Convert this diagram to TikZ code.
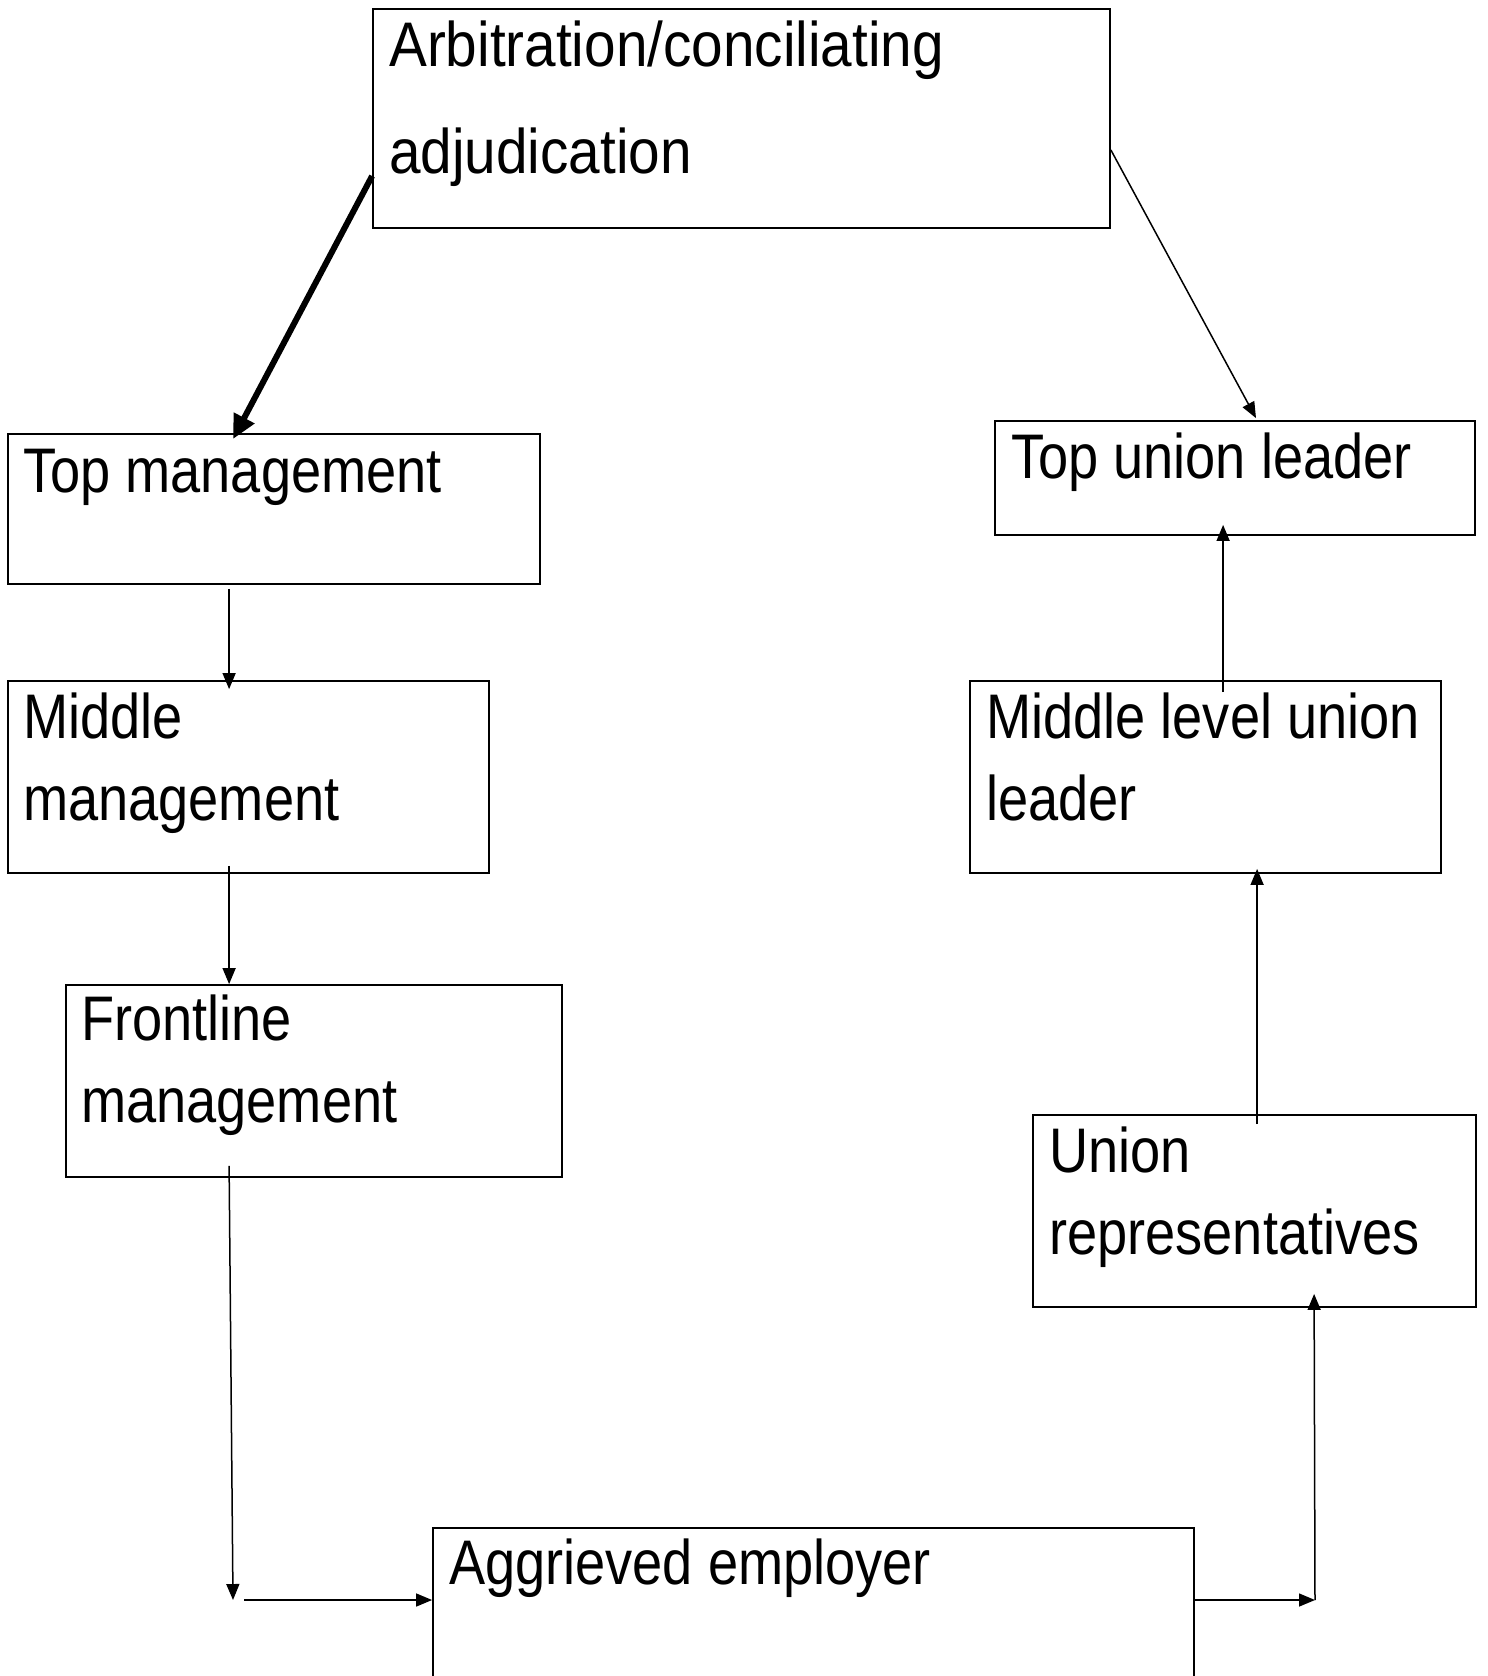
\documentclass[tikz,border=0pt]{standalone}
\usepackage{fontspec}
\setmainfont{Liberation Sans}[FakeStretch=0.86]
\newfontfamily\widesans{Liberation Sans}[FakeStretch=0.90]
\usetikzlibrary{arrows.meta,calc}

\tikzset{
  box/.style={draw, line width=1.8pt, rectangle, inner sep=0pt},
  label/.style={anchor=base west, inner sep=0pt, align=left,
    font=\fontsize{63}{82}\selectfont},
  arr/.style={line width=1.5pt, -{Triangle[length=16pt,width=13pt]}},
  thickarr/.style={line width=6pt, -{Triangle[length=24pt,width=22pt]}}
}

% a rectangle given by its corners (x1,y1) and (x2,y2)
\newcommand{\boxat}[5]{%
  \node[box, minimum width=#4-#2, minimum height=#5-#3]
    (#1) at ({(#2+#4)/2},{(#3+#5)/2}) {};}

\begin{document}
\begin{tikzpicture}[x=1pt,y=-1pt]
\useasboundingbox (0,0) rectangle (1488,1676);
\fill[white] (0,0) rectangle (1488,1676);
\clip (0,0) rectangle (1488,1676);

% boxes
\boxat{arb}{373}{9}{1110}{228}
\boxat{top}{8}{434}{540}{584}
\boxat{mid}{8}{681}{489}{873}
\boxat{front}{66}{985}{562}{1177}
\boxat{agg}{433}{1528}{1194}{1720}
\boxat{tul}{995}{421}{1475}{535}
\boxat{mul}{970}{681}{1441}{873}
\boxat{rep}{1033}{1115}{1476}{1307}

% texts (anchored on the baseline of their last line)
\node[label, font=\widesans\fontsize{63}{107}\selectfont] (tarb) at (389,173)
  {Arbitration/conciliating\\adjudication};
\node[label] (ttop) at (23,492) {Top management};
\node[label] (tmid) at (23,820) {Middle\\management};
\node[label] (tfront) at (81,1122) {Frontline\\management};
\node[label] (tagg) at (449,1584) {Aggrieved employer};
\node[label] (ttul) at (1011,478) {Top union leader};
\node[label] (tmul) at (986,820) {Middle level union\\leader};
\node[label] (trep) at (1049,1254) {Union\\representatives};

% free corners of the bottom route
\coordinate (cl) at (233,1600);
\coordinate (cr) at (1315,1600);

% connectors
\draw[thickarr] ($(arb.west)+(0,57.5)$) -- ($(top.north)+(-41,6)$);
\draw[arr] ($(arb.east)+(0,31.5)$) -- ($(tul.north)+(21,-2)$);
\draw[arr] ($(top.south west)+(222,4)$) -- ($(mid.north west)+(222,9)$);
\draw[arr] ($(mid.south west)+(222,-8)$) -- ($(front.north west)+(164,0)$);
\draw[arr] ($(front.south west)+(164,-12)$) -- (cl);
\draw[arr] ($(cl)+(11,0)$) -- (agg.west |- cl);
\draw[arr] (agg.east |- cr) -- (cr);
\draw[arr] (cr) -- ($(rep.south west)+(282,-14)$);
\draw[arr] ($(rep.north west)+(225,10)$) -- ($(mul.south west)+(288,-5)$);
\draw[arr] ($(mul.north west)+(254,12)$) -- ($(tul.south west)+(229,-11)$);
\end{tikzpicture}
\end{document}
